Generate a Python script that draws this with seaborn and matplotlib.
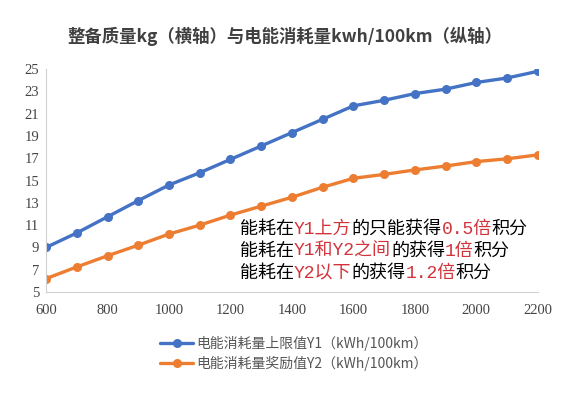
import matplotlib
matplotlib.use("Agg")
import matplotlib.pyplot as plt
import seaborn as sns
import pandas as pd

# curb mass (kg) and energy consumption limits (kWh/100km)
mass = [600, 700, 800, 900, 1000, 1100, 1200, 1300, 1400, 1500,
        1600, 1700, 1800, 1900, 2000, 2100, 2200]
y1 = [9.0, 10.3, 11.75, 13.2, 14.6, 15.7, 16.9, 18.1, 19.3, 20.5,
      21.7, 22.2, 22.8, 23.2, 23.8, 24.2, 24.8]
y2 = [6.2, 7.25, 8.25, 9.2, 10.2, 11.0, 11.9, 12.7, 13.5, 14.4,
      15.2, 15.55, 15.95, 16.3, 16.7, 16.95, 17.3]
series_names = ["电能消耗量上限值Y1（kWh/100km）", "电能消耗量奖励值Y2（kWh/100km）"]
colors = ["#4472C4", "#ED7D31"]
x_ticks = [600, 800, 1000, 1200, 1400, 1600, 1800, 2000, 2200]
y_ticks = [5, 7, 9, 11, 13, 15, 17, 19, 21, 23, 25]

title = "整备质量kg（横轴）与电能消耗量kwh/100km（纵轴）"
notes = [
    [("能耗在", "black"), ("Y1上方", "#d2333a"), ("的只能获得", "black"),
     ("0.5倍", "#d2333a"), ("积分", "black")],
    [("能耗在", "black"), ("Y1和Y2之间", "#d2333a"), ("的获得", "black"),
     ("1倍", "#d2333a"), ("积分", "black")],
    [("能耗在", "black"), ("Y2以下", "#d2333a"), ("的获得", "black"),
     ("1.2倍", "#d2333a"), ("积分", "black")],
]

df = pd.DataFrame({
    "mass": mass * 2,
    "value": y1 + y2,
    "series": [series_names[0]] * len(mass) + [series_names[1]] * len(mass),
})

sns.set_style("white")
cjk = ["Noto Sans CJK SC", "DejaVu Sans"]
plt.rcParams["font.family"] = cjk

fig = plt.figure(figsize=(5.62, 3.97), dpi=100)
ax = fig.add_axes([0.082, 0.2645, 0.875, 0.5615])

sns.lineplot(data=df, x="mass", y="value", hue="series", palette=colors,
             marker="o", markersize=6.5, markeredgewidth=0, linewidth=2.4,
             ax=ax, legend=True)

serif = ["Liberation Serif", "DejaVu Serif"]
ax.set_xlim(600, 2200)
ax.set_ylim(5, 25)
ax.set_xticks(x_ticks, labels=[str(v) for v in x_ticks], fontfamily=serif)
ax.set_yticks(y_ticks, labels=[str(v) for v in y_ticks], fontfamily=serif)
ax.set_xlabel("")
ax.set_ylabel("")
ax.tick_params(axis="both", length=0, labelsize=10.5, colors="#444444")
ax.tick_params(axis="x", pad=9)
ax.tick_params(axis="y", pad=5)
for side in ["top", "right"]:
    ax.spines[side].set_visible(False)
for side in ["left", "bottom"]:
    ax.spines[side].set_color("#d0d0d0")
    ax.spines[side].set_linewidth(0.8)

ax.get_legend().remove()
handles, labels = ax.get_legend_handles_labels()
fig.legend(handles, labels, loc="upper left", bbox_to_anchor=(0.275, 0.168),
           frameon=False, fontsize=10, labelcolor="#555555", handlelength=2.4,
           handletextpad=0.2, labelspacing=0.35, borderaxespad=0)

fig.text(0.507, 0.907, title, ha="center", va="center", fontsize=12.5,
         fontweight="bold", color="#404040")

# coloured annotation lines, segments chained one after another
# red parts use a wide mono face for the latin characters, like the original
mono = ["Liberation Mono", "Noto Sans CJK SC"]
y_rows = [1 - 229 / 397, 1 - 251 / 397, 1 - 273 / 397]
for row, y in zip(notes, y_rows):
    last = None
    for seg, col in row:
        fam = mono if col != "black" else cjk
        if last is None:
            last = fig.text(240 / 562, y, seg, color=col, fontsize=13,
                            va="center", ha="left", family=fam)
        else:
            last = ax.annotate(seg, xy=(1, 0), xycoords=last, color=col,
                               fontsize=13, va="bottom", ha="left",
                               family=fam)

fig.savefig("out.png", dpi=100)
